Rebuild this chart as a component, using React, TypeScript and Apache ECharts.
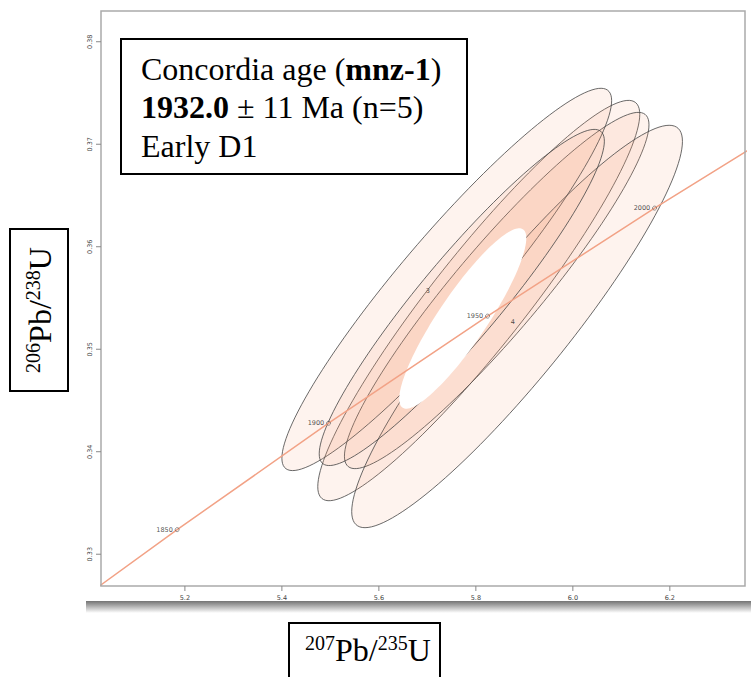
import React, { useEffect, useRef } from "react";
import * as echarts from "echarts";

// ---- data ----
const xTicks = [5.2, 5.4, 5.6, 5.8, 6.0, 6.2];
const yTicks = [0.33, 0.34, 0.35, 0.36, 0.37, 0.38];
// concordia curve points (age Ma, 207Pb/235U, 206Pb/238U)
const concAges = [1820, 1850, 1900, 1950, 2000, 2050];
const concX = [5.004, 5.18405, 5.49619, 5.82408, 6.16852, 6.53036];
const concY = [0.32621, 0.3324, 0.34278, 0.35323, 0.36377, 0.37439];
// labelled concordia ticks
const tickAges = [1850, 1900, 1950, 2000];
const tickX = [5.18405, 5.49619, 5.82408, 6.16852];
const tickY = [0.3324, 0.34278, 0.35323, 0.36377];
// analyses: centre x, centre y, half-extent x, half-extent y, correlation
const ellNames = ["1", "2", "3", "4", "5"];
const ellX = [5.806, 5.843, 5.74, 5.885, 5.771];
const ellY = [0.35475, 0.35573, 0.35681, 0.35222, 0.35505];
const ellEx = [0.332, 0.314, 0.34, 0.341, 0.294];
const ellEy = [0.01953, 0.01738, 0.01865, 0.01963, 0.0164];
const ellRho = [0.93, 0.93, 0.935, 0.92, 0.93];
// concordia age ellipse
const ageEll = [5.773, 0.353, 0.131, 0.0088, 0.89];

const X_MIN = 5.027, X_MAX = 6.355, Y_MIN = 0.3269, Y_MAX = 0.383;

function ellipsePoints(api: any, cx: number, cy: number, ex: number, ey: number, rho: number) {
  const pts: number[][] = [];
  const s = Math.sqrt(1 - rho * rho);
  for (let i = 0; i < 140; i++) {
    const t = (i / 140) * Math.PI * 2;
    const x = cx + ex * Math.cos(t);
    const y = cy + ey * (rho * Math.cos(t) + s * Math.sin(t));
    pts.push(api.coord([x, y]));
  }
  return pts;
}

export default function App() {
  const ref = useRef<HTMLDivElement>(null);
  useEffect(() => {
    const chart = echarts.init(ref.current!, null, { renderer: "svg" });
    const ellData = ellNames.map((n, i) => [ellX[i], ellY[i], ellEx[i], ellEy[i], ellRho[i]]);
    const option: any = {
      animation: false,
      grid: { left: 101, top: 11, width: 644, height: 575, show: false },
      xAxis: {
        type: "value", min: X_MIN, max: X_MAX,
        axisLine: { show: false }, splitLine: { show: false },
        axisTick: { show: false }, axisLabel: { show: false },
      },
      yAxis: {
        type: "value", min: Y_MIN, max: Y_MAX,
        axisLine: { show: false }, splitLine: { show: false },
        axisTick: { show: false }, axisLabel: { show: false },
      },
      series: [
        {
          type: "custom",
          data: ellData,
          renderItem: (params: any, api: any) => {
            const pts = ellipsePoints(api, api.value(0), api.value(1), api.value(2), api.value(3), api.value(4));
            return {
              type: "polygon",
              shape: { points: pts },
              style: { fill: "rgba(247,160,112,0.12)", stroke: "#444", lineWidth: 0.8 },
            };
          },
          z: 2,
        },
        {
          type: "custom",
          data: [ageEll],
          renderItem: (params: any, api: any) => {
            const pts = ellipsePoints(api, api.value(0), api.value(1), api.value(2), api.value(3), api.value(4));
            return {
              type: "polygon",
              shape: { points: pts },
              style: { fill: "#ffffff", stroke: "none" },
            };
          },
          z: 3,
        },
        {
          type: "line",
          data: concX.map((x, i) => [x, concY[i]]),
          showSymbol: false,
          lineStyle: { color: "#F2A286", width: 1.5 },
          z: 4,
        },
        {
          type: "scatter",
          data: tickX.map((x, i) => ({ value: [x, tickY[i]], name: String(tickAges[i]) })),
          symbol: "circle",
          symbolSize: 4,
          itemStyle: { color: "rgba(255,255,255,0)", borderColor: "#444", borderWidth: 0.7 },
          label: {
            show: true, position: "left", distance: 2, formatter: "{b}",
            fontSize: 6.5, color: "#222", fontFamily: "DejaVu Sans",
          },
          z: 5,
        },
        {
          type: "scatter",
          data: [
            { value: [5.701, 0.35573], name: "3" },
            { value: [5.876, 0.35261], name: "4" },
          ],
          symbolSize: 0,
          label: { show: true, position: "inside", formatter: "{b}", fontSize: 6.5, color: "#222", fontFamily: "DejaVu Sans" },
          z: 5,
        },
      ],
    };
    chart.setOption(option);

    // frame, ticks and tick labels built from the axis scale
    const g: any[] = [];
    const toPx = (x: number, y: number) => chart.convertToPixel({ gridIndex: 0 }, [x, y]);
    g.push({
      type: "rect", shape: { x: 101, y: 11, width: 644, height: 575 },
      style: { fill: "none", stroke: "#aaaaaa", lineWidth: 1.5 }, z: 10,
    });
    xTicks.forEach((v) => {
      const [px] = toPx(v, Y_MIN);
      g.push({ type: "line", shape: { x1: px, y1: 586, x2: px, y2: 591 }, style: { stroke: "#888", lineWidth: 1 }, z: 10 });
      g.push({ type: "text", x: px, y: 598, style: { text: v.toFixed(1), fontSize: 6.5, fill: "#444", align: "center", verticalAlign: "middle", fontFamily: "DejaVu Sans" }, z: 10 });
    });
    yTicks.forEach((v) => {
      const [, py] = toPx(X_MIN, v);
      g.push({ type: "line", shape: { x1: 96, y1: py, x2: 101, y2: py }, style: { stroke: "#888", lineWidth: 1 }, z: 10 });
      g.push({ type: "text", x: 90, y: py, rotation: Math.PI / 2, style: { text: v.toFixed(2), fontSize: 6.5, fill: "#444", align: "center", verticalAlign: "middle", fontFamily: "DejaVu Sans" }, z: 10 });
    });
    // screenshot shadow
    g.push({
      type: "rect", shape: { x: 86, y: 601, width: 665, height: 12 },
      style: {
        fill: new echarts.graphic.LinearGradient(0, 0, 0, 1, [
          { offset: 0, color: "rgba(90,90,90,0.85)" },
          { offset: 1, color: "rgba(90,90,90,0)" },
        ]),
      }, z: 1,
    });
    // info box
    g.push({ type: "rect", shape: { x: 121, y: 39, width: 346, height: 135 }, style: { fill: "#fff", stroke: "#000", lineWidth: 2 }, z: 20 });
    const serif = "'Liberation Serif', 'Times New Roman', serif";
    const rich = {
      n: { fontSize: 32, fontFamily: serif, color: "#000" },
      b: { fontSize: 32, fontFamily: serif, fontWeight: "bold", color: "#000" },
    };
    g.push({ type: "text", x: 141, y: 69, style: { text: "{n|Concordia age (}{b|mnz-1}{n|)}", rich, verticalAlign: "middle" }, z: 21 });
    g.push({ type: "text", x: 141, y: 107, style: { text: "{b|1932.0}{n| ± 11 Ma (n=5)}", rich, verticalAlign: "middle" }, z: 21 });
    g.push({ type: "text", x: 141, y: 145.7, style: { text: "{n|Early D1}", rich, verticalAlign: "middle" }, z: 21 });
    // y axis title box
    g.push({ type: "rect", shape: { x: 10, y: 229, width: 58, height: 162 }, style: { fill: "#fff", stroke: "#000", lineWidth: 2 }, z: 20 });
    const rich2 = {
      n: { fontSize: 32, fontFamily: serif, color: "#000" },
      s: { fontSize: 20, fontFamily: serif, color: "#000", verticalAlign: "top", padding: [0, 0, 14, 0] },
    };
    g.push({ type: "text", x: 40, y: 310, rotation: Math.PI / 2, style: { text: "{s|206}{n|Pb/}{s|238}{n|U}", rich: rich2, align: "center", verticalAlign: "middle" }, z: 21 });
    // x axis title box
    g.push({ type: "rect", shape: { x: 289, y: 623, width: 151, height: 60 }, style: { fill: "#fff", stroke: "#000", lineWidth: 2 }, z: 20 });
    g.push({ type: "text", x: 305, y: 650, style: { text: "{s|207}{n|Pb/}{s|235}{n|U}", rich: rich2, align: "left", verticalAlign: "middle" }, z: 21 });
    chart.setOption({ graphic: g });
    return () => chart.dispose();
  }, []);
  return <div ref={ref} style={{ position: "absolute", left: 0, top: 0, width: 751, height: 677 }} />;
}
